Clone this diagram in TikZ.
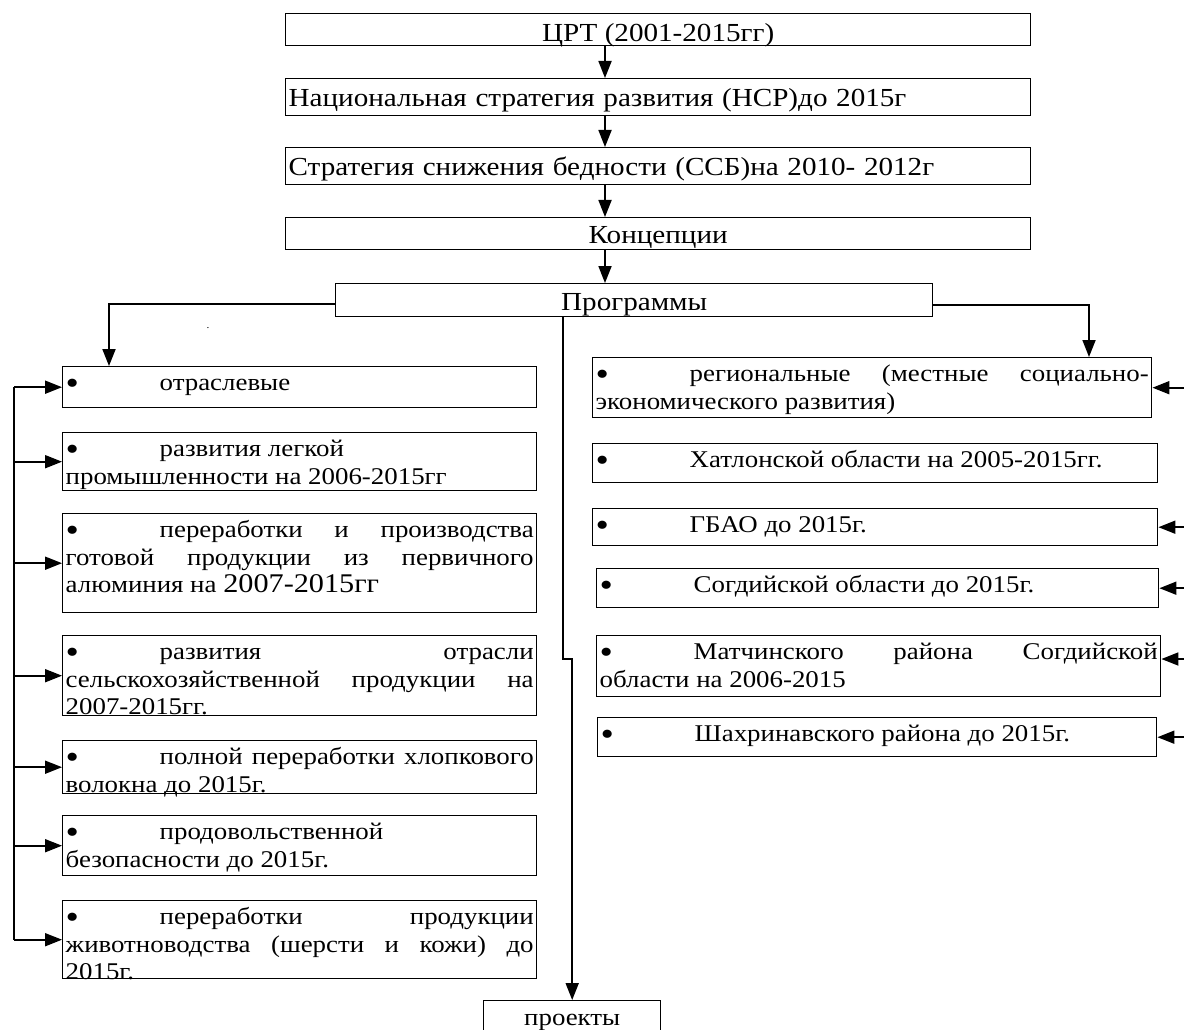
\documentclass[tikz,border=0pt]{standalone}
\usepackage{fontspec}
\setmainfont{Liberation Serif}[FakeStretch=1.12]
\usetikzlibrary{arrows.meta,positioning}
\tikzset{
    plain-box/.style = {draw, line width=1.4pt, rectangle, anchor=north west, inner xsep=3pt, inner ysep=1pt},
    head-box/.style = {plain-box, font=\fontsize{26}{28}\selectfont, text height=27pt},
    list-box/.style = {plain-box, inner ysep=0pt, font=\fontsize{24}{27.5}\selectfont},
    arr/.style = {line width=1.8pt, -{Triangle[length=17pt,width=13pt]}},
}
\newcommand{\bul}{\makebox[94pt][l]{\raisebox{-4pt}{\fontsize{34}{27.5}\selectfont\textbullet}}}
\newcommand{\boxtext}[3]{\begin{minipage}[c][#2pt][t]{#1pt}\rule{0pt}{24pt}#3\end{minipage}}

\begin{document}
\begin{tikzpicture}[x=1pt,y=-1pt]
\useasboundingbox (0,0) rectangle (1184,1030);
\coordinate (spine) at (605,0);
\coordinate (lbus) at (14,0);
\coordinate (rbus) at (1184,0);

% chain at the top
\node[head-box, minimum width=745, text depth=3pt] (crt) at (285,13) {ЦРТ (2001-2015гг)};
\node[head-box, text width=739, align=left, text depth=8pt] (nsr) at (285,78) {Национальная стратегия развития (НСР)до 2015г};
\node[head-box, text width=739, align=left, text depth=8pt] (ssb) at (285,147) {Стратегия снижения бедности (ССБ)на 2010- 2012г};
\node[head-box, minimum width=745, text height=25pt, text depth=5pt] (konc) at (285,217) {Концепции};
\node[head-box, minimum width=597, text height=26pt, text depth=5pt] (prog) at (335,283) {Программы};
\node at (208,328) {.};

\foreach \a/\b in {crt/nsr, nsr/ssb, ssb/konc, konc/prog}
    \draw[arr] (spine |- \a.south) -- (spine |- \b.north);

% left column
\node[list-box] (otr) at (62,366) {\boxtext{468}{41}{\bul отраслевые}};
\node[list-box] (leg) at (62,432) {\boxtext{468}{58}{\bul развития легкой\\промышленности на 2006-2015гг}};
\node[list-box] (alu) at (62,513) {\boxtext{468}{99}{\bul переработки и производства\linebreak готовой продукции из первичного\linebreak алюминия на {\fontsize{27}{27.5}\selectfont 2007-2015гг}}};
\node[list-box] (sel) at (62,635) {\boxtext{468}{80}{\bul развития отрасли\linebreak сельскохозяйственной продукции на\linebreak 2007-2015гг.}};
\node[list-box] (hlo) at (62,740) {\boxtext{468}{53}{\bul полной переработки хлопкового\linebreak волокна до 2015г.}};
\node[list-box] (pro) at (62,815) {\boxtext{468}{60}{\bul продовольственной\\безопасности до 2015г.}};
\node[list-box] (jiv) at (62,900) {\boxtext{468}{78}{\bul переработки продукции\linebreak животноводства (шерсти и кожи) до\linebreak 2015г.}};

% right column
\node[list-box] (reg) at (592,357) {\boxtext{553}{60}{\bul региональные (местные социально-\linebreak экономического развития)}};
\node[list-box] (hat) at (592,443) {\boxtext{559}{39}{\bul Хатлонской области на 2005-2015гг.}};
\node[list-box] (gbao) at (592,508) {\boxtext{559}{37}{\bul ГБАО до 2015г.}};
\node[list-box] (sogd) at (596,568) {\boxtext{556}{39}{\bul Согдийской области до 2015г.}};
\node[list-box] (mat) at (596,635) {\boxtext{558}{61}{\bul Матчинского района Согдийской\linebreak области на 2006-2015}};
\node[list-box] (shah) at (597,717) {\boxtext{553}{39}{\bul Шахринавского района до 2015г.}};

\node[plain-box, font=\fontsize{24}{27.5}\selectfont, minimum width=177, text height=24pt, text depth=10pt] (proj) at (483,1000) {проекты};

% connectors
\coordinate (ltop) at (109,304);
\coordinate (rtop) at (1089,305);
\coordinate (jog) at (563,659);
\draw[arr] (prog.west |- ltop) -- (ltop) -- (ltop |- otr.north);
\draw[arr] (prog.east |- rtop) -- (rtop) -- (rtop |- reg.north);
\draw[arr] (prog.south -| jog) -- (jog) -| (proj.north);

\draw[line width=1.8pt] (lbus |- otr.west) -- (lbus |- jiv.west);
\foreach \b in {otr, leg, alu, sel, hlo, pro, jiv}
    \draw[arr] (lbus |- \b.west) -- (\b.west);
\foreach \b in {reg, gbao, sogd, shah}
    \draw[arr] (rbus |- \b.east) -- (\b.east);
\draw[arr] ([shift={(24,24)}]mat.north east) -- ([shift={(0,24)}]mat.north east);
\end{tikzpicture}
\end{document}
